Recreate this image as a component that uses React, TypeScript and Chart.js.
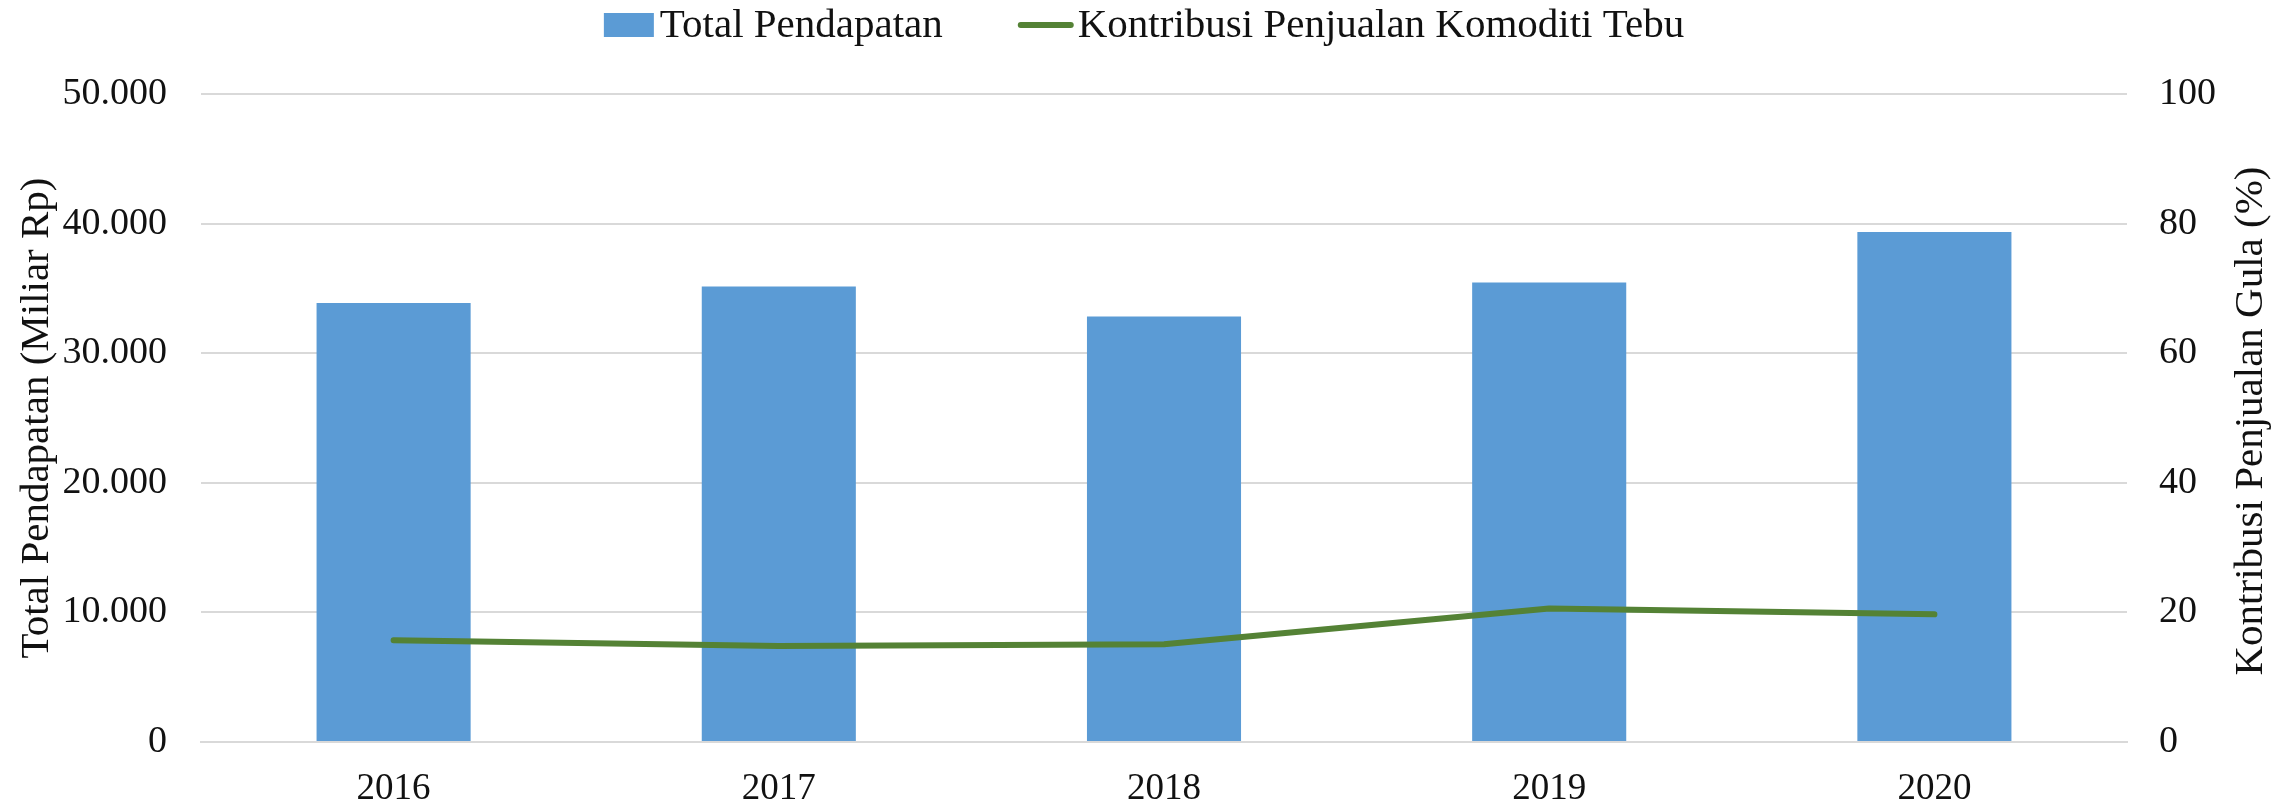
import React, { useEffect, useRef } from "react";
import { Chart, registerables } from "chart.js";

Chart.register(...registerables);

const years = ["2016", "2017", "2018", "2019", "2020"];
const totalPendapatan = [33870, 35150, 32840, 35460, 39350];
const kontribusiTebu = [15.7, 14.8, 15.1, 20.6, 19.7];
const leftTickLabels = ["0", "10.000", "20.000", "30.000", "40.000", "50.000"];
const rightTickLabels = ["0", "20", "40", "60", "80", "100"];

const barLabel = "Total Pendapatan";
const lineLabel = "Kontribusi Penjualan Komoditi Tebu";
const leftTitle = "Total Pendapatan (Miliar Rp)";
const rightTitle = "Kontribusi Penjualan Gula (%)";

const FONT = '"Liberation Serif", "Times New Roman", serif';
const TEXT_COLOR = "#111111";
const BAR_COLOR = "#5b9bd5";
const LINE_COLOR = "#548235";
const GRID_COLOR = "#d9d9d9";

const extrasPlugin = {
  id: "extras",
  afterDraw(chart: any) {
    const ctx = chart.ctx as CanvasRenderingContext2D;
    const area = chart.chartArea;
    ctx.save();
    // legend
    ctx.font = `41px ${FONT}`;
    ctx.fillStyle = TEXT_COLOR;
    ctx.textBaseline = "middle";
    ctx.textAlign = "left";
    const t1 = ctx.measureText(barLabel).width;
    const t2 = ctx.measureText(lineLabel).width;
    const boxW = 50, gap1 = 6, itemGap = 75, lineW = 56, gap2 = 4;
    const total = boxW + gap1 + t1 + itemGap + lineW + gap2 + t2;
    let x = chart.width / 2 - 2 - total / 2;
    const cy = 25;
    ctx.fillStyle = BAR_COLOR;
    ctx.fillRect(x, cy - 12, boxW, 24);
    x += boxW + gap1;
    ctx.fillStyle = TEXT_COLOR;
    ctx.fillText(barLabel, x, cy + 1);
    x += t1 + itemGap;
    ctx.strokeStyle = LINE_COLOR;
    ctx.lineWidth = 6;
    ctx.lineCap = "round";
    ctx.beginPath();
    ctx.moveTo(x + 3, cy);
    ctx.lineTo(x + lineW - 3, cy);
    ctx.stroke();
    x += lineW + gap2;
    ctx.fillText(lineLabel, x, cy + 1);
    // right axis title (reads bottom to top)
    ctx.translate(chart.width - 41, (area.top + area.bottom) / 2 + 3);
    ctx.rotate(-Math.PI / 2);
    ctx.textAlign = "center";
    ctx.fillText(rightTitle, 0, 0);
    ctx.restore();
  },
};

export default function App() {
  const canvasRef = useRef<HTMLCanvasElement | null>(null);

  useEffect(() => {
    document.body.style.margin = "0";
    const canvas = canvasRef.current;
    if (!canvas) return;
    const chart = new Chart(canvas, {
      type: "bar",
      data: {
        labels: years,
        datasets: [
          {
            type: "line",
            label: lineLabel,
            data: kontribusiTebu,
            yAxisID: "y1",
            borderColor: LINE_COLOR,
            backgroundColor: LINE_COLOR,
            borderWidth: 6,
            pointRadius: 0,
            tension: 0,
            borderCapStyle: "round",
            borderJoinStyle: "round",
            order: 0,
          } as any,
          {
            type: "bar",
            label: barLabel,
            data: totalPendapatan,
            yAxisID: "y",
            backgroundColor: BAR_COLOR,
            categoryPercentage: 1,
            barPercentage: 0.4,
            order: 1,
          },
        ],
      },
      options: {
        responsive: false,
        animation: false,
        devicePixelRatio: 1,
        layout: { padding: { top: 94, left: 0, right: 0, bottom: 0 } },
        plugins: {
          legend: { display: false },
          tooltip: { enabled: false },
          title: { display: false },
        },
        scales: {
          x: {
            grid: { display: false, drawTicks: false },
            border: { display: true, color: GRID_COLOR, width: 2 },
            ticks: {
              font: { family: FONT, size: 37 },
              color: TEXT_COLOR,
              padding: 25,
              maxRotation: 0,
            },
            afterFit: (scale: any) => {
              scale.height = 64;
            },
          },
          y: {
            position: "left",
            min: 0,
            max: 50000,
            ticks: {
              stepSize: 10000,
              font: { family: FONT, size: 38 },
              color: TEXT_COLOR,
              padding: 34,
              callback: (_v: any, i: number) => leftTickLabels[i],
            },
            grid: { color: GRID_COLOR, lineWidth: 2, drawTicks: false },
            border: { display: false },
            title: {
              display: true,
              text: leftTitle,
              font: { family: FONT, size: 41 },
              color: TEXT_COLOR,
              padding: { top: 13, bottom: 0 },
            },
            afterFit: (scale: any) => {
              scale.width = 201;
            },
          },
          y1: {
            position: "right",
            min: 0,
            max: 100,
            ticks: {
              stepSize: 20,
              font: { family: FONT, size: 38 },
              color: TEXT_COLOR,
              padding: 32,
              callback: (_v: any, i: number) => rightTickLabels[i],
            },
            grid: { drawOnChartArea: false, drawTicks: false },
            border: { display: false },
            title: { display: false },
            afterFit: (scale: any) => {
              scale.width = 165;
            },
          },
        },
      },
      plugins: [extrasPlugin],
    });
    return () => chart.destroy();
  }, []);

  return (
    <div style={{ width: 2292, height: 806 }}>
      <canvas ref={canvasRef} width={2292} height={806} style={{ display: "block" }} />
    </div>
  );
}
